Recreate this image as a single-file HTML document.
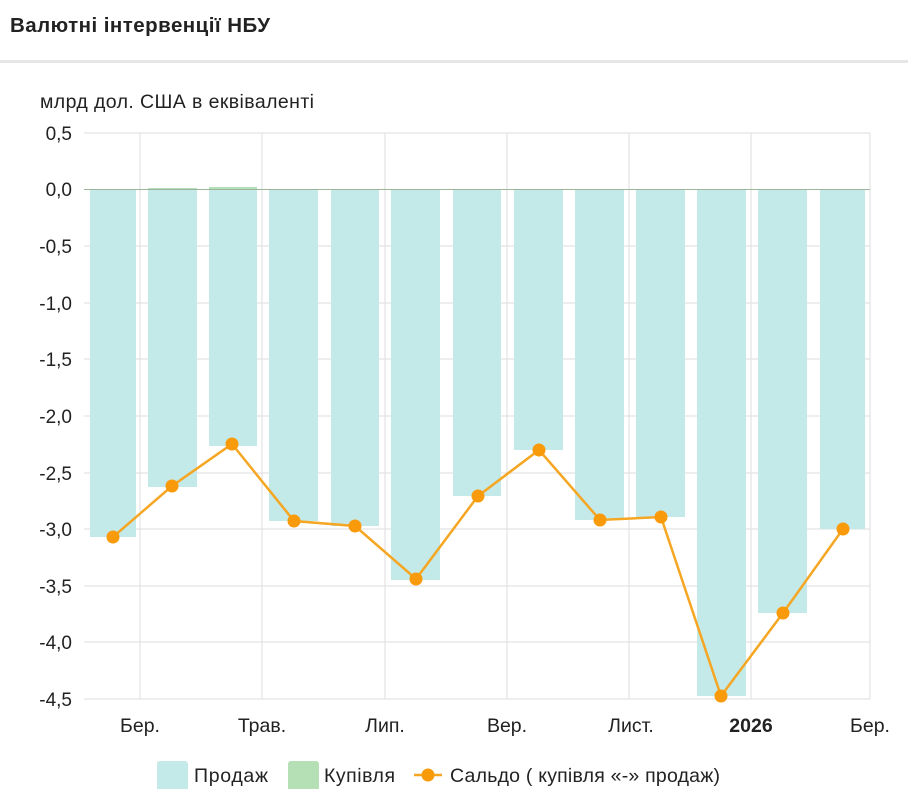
<!DOCTYPE html>
<html><head><meta charset="utf-8"><style>
body{margin:0;width:908px;height:789px;background:#fff;overflow:hidden;font-family:"Liberation Sans",sans-serif}
</style></head><body>
<svg width="908" height="789" xmlns="http://www.w3.org/2000/svg" font-family="Liberation Sans, sans-serif">
<text x="10" y="32" font-size="20.5" font-weight="bold" fill="#222" textLength="260">Валютні інтервенції НБУ</text>
<rect x="0" y="60" width="908" height="3" fill="#e6e6e6"/>
<text x="40" y="108" font-size="19.5" fill="#222" textLength="274">млрд дол. США в еквіваленті</text>
<g stroke="#ddd" stroke-width="1">
<line x1="84" y1="133" x2="870" y2="133"/>
<line x1="84" y1="246" x2="870" y2="246"/>
<line x1="84" y1="303" x2="870" y2="303"/>
<line x1="84" y1="359" x2="870" y2="359"/>
<line x1="84" y1="416" x2="870" y2="416"/>
<line x1="84" y1="473" x2="870" y2="473"/>
<line x1="84" y1="529" x2="870" y2="529"/>
<line x1="84" y1="586" x2="870" y2="586"/>
<line x1="84" y1="642" x2="870" y2="642"/>
<line x1="84" y1="699" x2="870" y2="699"/>
<line x1="140" y1="133" x2="140" y2="699"/>
<line x1="262" y1="133" x2="262" y2="699"/>
<line x1="385" y1="133" x2="385" y2="699"/>
<line x1="507" y1="133" x2="507" y2="699"/>
<line x1="629" y1="133" x2="629" y2="699"/>
<line x1="751" y1="133" x2="751" y2="699"/>
<line x1="870" y1="133" x2="870" y2="699"/>
</g>
<g font-size="19" fill="#222" text-anchor="end">
<text x="72" y="140">0,5</text><text x="72" y="196">0,0</text><text x="72" y="253">-0,5</text>
<text x="72" y="310">-1,0</text><text x="72" y="366">-1,5</text><text x="72" y="423">-2,0</text>
<text x="72" y="480">-2,5</text><text x="72" y="536">-3,0</text><text x="72" y="593">-3,5</text>
<text x="72" y="649">-4,0</text><text x="72" y="706">-4,5</text>
</g>
<g fill="#c4e9e9">
<rect x="90" y="190" width="46" height="347"/>
<rect x="148" y="190" width="49" height="297"/>
<rect x="209" y="190" width="48" height="256"/>
<rect x="269" y="190" width="49" height="331"/>
<rect x="331" y="190" width="48" height="336"/>
<rect x="391" y="190" width="49" height="390"/>
<rect x="453" y="190" width="48" height="306"/>
<rect x="514" y="190" width="49" height="260"/>
<rect x="575" y="190" width="49" height="330"/>
<rect x="636" y="190" width="49" height="327"/>
<rect x="697" y="190" width="49" height="506"/>
<rect x="758" y="190" width="49" height="423"/>
<rect x="820" y="190" width="45" height="339"/>
</g>
<rect x="148" y="188" width="49" height="2" fill="#b5dfb5"/>
<rect x="209" y="187" width="48" height="3" fill="#b5dfb5"/>
<line x1="84" y1="189.5" x2="870" y2="189.5" stroke="#9cb59c" stroke-width="1"/>
<polyline fill="none" stroke="#f5a623" stroke-width="2.5" points="113,537 172,486 232,444 294,521 355,526 416,579 478,496 539,450 600,520 661,517 721,696 783,613 843,529"/>
<g fill="#f99a0a">
<circle cx="113" cy="537" r="6.5"/><circle cx="172" cy="486" r="6.5"/><circle cx="232" cy="444" r="6.5"/>
<circle cx="294" cy="521" r="6.5"/><circle cx="355" cy="526" r="6.5"/><circle cx="416" cy="579" r="6.5"/>
<circle cx="478" cy="496" r="6.5"/><circle cx="539" cy="450" r="6.5"/><circle cx="600" cy="520" r="6.5"/>
<circle cx="661" cy="517" r="6.5"/><circle cx="721" cy="696" r="6.5"/><circle cx="783" cy="613" r="6.5"/>
<circle cx="843" cy="529" r="6.5"/>
</g>
<g font-size="19.5" fill="#222" text-anchor="middle">
<text x="140" y="732">Бер.</text><text x="262" y="732">Трав.</text><text x="385" y="732">Лип.</text>
<text x="507" y="732">Вер.</text><text x="631" y="732">Лист.</text>
<text x="751" y="732" font-weight="bold">2026</text><text x="870" y="732">Бер.</text>
</g>
<rect x="157" y="761" width="31" height="30" rx="3" fill="#c4e9e9"/>
<text x="194" y="782" font-size="19.5" fill="#222" textLength="74">Продаж</text>
<rect x="288" y="761" width="31" height="30" rx="3" fill="#b5dfb5"/>
<text x="324" y="782" font-size="19.5" fill="#222" textLength="71">Купівля</text>
<line x1="414" y1="775" x2="442" y2="775" stroke="#f5a623" stroke-width="2.5"/>
<circle cx="428" cy="775" r="6.5" fill="#f99a0a"/>
<text x="450" y="782" font-size="19.5" fill="#222" textLength="270">Сальдо ( купівля «-» продаж)</text>
</svg>
</body></html>
